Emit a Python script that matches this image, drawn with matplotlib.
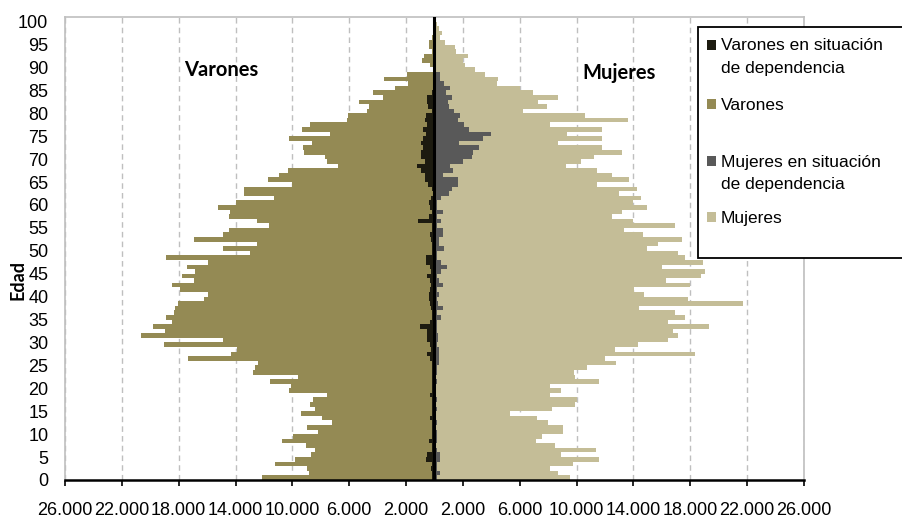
import numpy as np
import matplotlib
matplotlib.use('Agg')
from matplotlib import pyplot as plt
from matplotlib.patches import Rectangle
from matplotlib.ticker import FuncFormatter

edades = np.arange(0, 101)

varones = [12160, 8810, 8950, 11220, 9820, 8710, 8410, 9060, 10710, 9930,
           8180, 8990, 7230, 7940, 9390, 8410, 8760, 8550, 7540, 10220,
           10120, 11580, 9580, 12750, 12630, 12400, 17330, 14320, 13920, 19030,
           14860, 20670, 18960, 19790, 18490, 18920, 18310, 18260, 18030, 16220,
           15920, 17910, 18450, 16900, 17790, 16850, 17390, 15920, 18920, 12980,
           14860, 12510, 16900, 14860, 14440, 11620, 12510, 14440, 14390, 15210,
           13970, 11290, 13380, 13380, 10050, 11740, 10920, 10290, 6770, 7560,
           7700, 9180, 9270, 8640, 10220, 7350, 9350, 8760, 6180, 6110,
           4770, 4590, 5290, 3600, 4350, 2780, 1840, 3550, 1960, 80,
           320, 900, 740, 200, 365, 365, 150, 80, 50, 30,
           10]

mujeres = [9530, 8710, 8130, 9720, 11580, 8880, 11340, 8480, 7140, 7540,
           9020, 9070, 8010, 7240, 5310, 8250, 9870, 10010, 8130, 8880,
           8130, 11580, 9870, 9840, 10710, 12770, 12000, 18330, 12700, 14340,
           16450, 17160, 16800, 19340, 16450, 17630, 16920, 14410, 21730, 17860,
           14740, 14040, 17980, 16290, 18750, 19030, 16000, 18870, 17630, 17110,
           14930, 15750, 17390, 14650, 13340, 16920, 14000, 12510, 13170, 14930,
           14000, 14510, 13000, 14230, 11430, 13690, 12490, 11430, 9220, 10330,
           11220, 13170, 11770, 8710, 11770, 9300, 11770, 8130, 13640, 10590,
           6250, 7890, 7300, 8710, 6950, 6020, 4420, 4490, 3550, 2850,
           2150, 1980, 2380, 1510, 1440, 740, 400, 500, 320, 200,
           100]

varones_dep = [150, 200, 280, 150, 600, 500, 200, 150, 420, 200,
               150, 150, 200, 350, 150, 200, 150, 200, 300, 200,
               150, 150, 200, 150, 200, 200, 300, 500, 250, 300,
               500, 500, 560, 1020, 300, 200, 200, 250, 300, 370,
               400, 300, 250, 300, 560, 250, 300, 600, 600, 200,
               200, 200, 250, 300, 150, 200, 1140, 370, 200, 300,
               370, 250, 100, 200, 440, 670, 670, 930, 1250, 700,
               980, 980, 800, 930, 800, 600, 830, 500, 700, 600,
               200, 450, 550, 500, 150, 100, 0, 50, 0, 0,
               0, 0, 0, 0, 0, 0, 0, 0, 0, 0,
               0]

mujeres_dep = [200, 400, 150, 200, 400, 400, 150, 100, 150, 200,
               200, 100, 150, 100, 100, 150, 100, 150, 100, 100,
               100, 150, 100, 150, 150, 300, 300, 300, 300, 150,
               230, 230, 150, 150, 200, 440, 200, 620, 250, 200,
               330, 200, 620, 300, 200, 470, 890, 470, 200, 200,
               650, 300, 330, 620, 620, 200, 440, 200, 620, 200,
               200, 440, 1050, 1200, 1680, 1680, 620, 1280, 1100, 2000,
               2640, 2700, 3150, 1700, 3400, 4000, 2450, 2100, 1630, 1820,
               1400, 1050, 930, 1240, 820, 1120, 700, 400, 400, 0,
               0, 0, 0, 0, 0, 0, 0, 0, 0, 0,
               0]

ticks_x = np.arange(-26000, 26001, 4000)

c_var = '#948A54'
c_muj = '#C4BD97'
c_var_dep = '#1D1B10'
c_muj_dep = '#595959'

plt.rcParams['font.family'] = ['Liberation Sans', 'DejaVu Sans']

fig = plt.figure(figsize=(9.03, 5.19), dpi=100)
ax = fig.add_axes([65 / 903, 1 - 480 / 519, (804 - 65) / 903, (480 - 17) / 519])

# totales por sexo y, encima, la poblacion en situacion de dependencia
ax.barh(edades, -np.array(varones), height=1, align='edge', color=c_var, linewidth=0, zorder=2)
ax.barh(edades, mujeres, height=1, align='edge', color=c_muj, linewidth=0, zorder=2)
ax.barh(edades, -np.array(varones_dep), height=1, align='edge', color=c_var_dep, linewidth=0, zorder=3)
ax.barh(edades, mujeres_dep, height=1, align='edge', color=c_muj_dep, linewidth=0, zorder=3)

ax.axvline(0, color='black', linewidth=2.2, zorder=4)

ax.set_xlim(-26000, 26000)
ax.set_ylim(0, 101)
ax.set_xticks(ticks_x)
ax.xaxis.set_major_formatter(FuncFormatter(lambda v, p: f"{abs(v):,.0f}".replace(',', '.')))
ax.set_yticks(np.arange(0, 101, 5))
ax.tick_params(axis='x', direction='out', length=4.3, width=1.2, pad=11.5, labelsize=13)
ax.tick_params(axis='y', length=0, pad=12, labelsize=13)

ax.grid(axis='x', color='#BFBFBF', linestyle=(0, (4, 3)), linewidth=1.0, zorder=0)
for s in ['top', 'left', 'right']:
    ax.spines[s].set_color('#BFBFBF')
    ax.spines[s].set_linewidth(1.2)
ax.spines['bottom'].set_color('black')
ax.spines['bottom'].set_linewidth(1.8)
ax.spines['bottom'].set_zorder(5)

ax.text(-15000, 88.2, 'Varones', fontsize=14.5, fontweight='bold', family=['Lato', 'DejaVu Sans'],
        ha='center', va='baseline', zorder=6)
ax.text(13000, 87.5, 'Mujeres', fontsize=14.5, fontweight='bold', family=['Lato', 'DejaVu Sans'],
        ha='center', va='baseline', zorder=6)

fig.text(18 / 903, 1 - 280 / 519, 'Edad', rotation=90, fontsize=13, fontweight='bold',
         family=['Lato', 'DejaVu Sans'], ha='center', va='center')

# leyenda
W, H = 903.0, 519.0
fig.patches.append(Rectangle((698 / W, 1 - 258 / H), 220 / W, (258 - 27) / H, transform=fig.transFigure,
                             facecolor='white', edgecolor='black', linewidth=1.3, zorder=10))
items = [
    (c_var_dep, 45, ['Varones en situación', 'de dependencia']),
    (c_var, 104, ['Varones']),
    (c_muj_dep, 161, ['Mujeres en situación', 'de dependencia']),
    (c_muj, 217, ['Mujeres']),
]
for color, yc, lines in items:
    fig.patches.append(Rectangle((707 / W, 1 - (yc + 4.5) / H), 9 / W, 9 / H, transform=fig.transFigure,
                                 facecolor=color, edgecolor='none', zorder=11))
    for i, t in enumerate(lines):
        fig.text(721 / W, 1 - (yc + 1 + i * 22.6) / H, t, fontsize=12.5, ha='left', va='center', zorder=12)

fig.savefig('out.png', dpi=100)
